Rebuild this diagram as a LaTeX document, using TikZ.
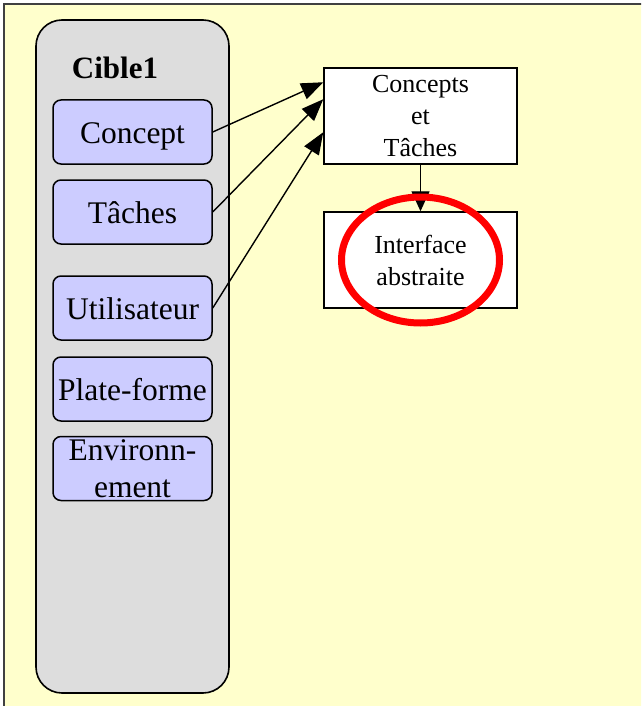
\documentclass[tikz,border=0pt]{standalone}
\usepackage{fontspec}
\setmainfont{Liberation Serif}
\usetikzlibrary{arrows.meta,calc}
\definecolor{bgyellow}{HTML}{FFFFCC}
\definecolor{panelgray}{HTML}{DDDDDD}
\definecolor{itemblue}{HTML}{CCCCFF}
\definecolor{framegray}{HTML}{404040}
\begin{document}
\begin{tikzpicture}[x=1pt,y=-1pt,
  panel/.style={draw=black, line width=1.6pt, fill=panelgray, rounded corners=26pt},
  itembase/.style={draw=black, line width=1.5pt, fill=itemblue, rounded corners=8pt,
    minimum width=159pt, minimum height=64pt, inner sep=0pt, align=center,
    font=\fontsize{31.5}{37}\selectfont},
  item/.style={itembase, text height=23pt, text depth=0pt},
  stagebox/.style={draw=black, line width=1.5pt, fill=white, minimum width=193pt,
    minimum height=96pt, inner sep=0pt, align=center, font=\fontsize{26}{32}\selectfont},
  link/.style={draw=black, line width=1.4pt, -{Triangle[length=22pt,width=17pt]}}]

% page and yellow sheet
\clip (0,0) rectangle (641,706);
\fill[white] (0,0) rectangle (641,706);
\draw[line width=2pt, draw=framegray, fill=bgyellow] (4,4) rectangle (660,720);

% target panel with its model components
\draw[panel] (36,20) rectangle (229,693);
\node[inner sep=0pt, font=\bfseries\fontsize{31}{37}\selectfont] (title) at (115,67.5) {Cible1};
\node[item] (concept) at (132.5,132) {Concept};
\node[item] (taches) at (132.5,212) {Tâches};
\node[item] (user) at (132.5,308) {Utilisateur};
\node[item] (platform) at (132.5,389) {Plate-forme};
\node[itembase] (env) at (132.5,468.5) {Environn-\\ement};

% derived models
\node[stagebox] (ct) at (420.5,116) {Concepts\\et\\Tâches};
\node[stagebox] (ia) at (420.5,260) {Interface\\abstraite};

% connectors
\coordinate (in1) at ($(ct.north west)+(0,15)$);
\coordinate (in2) at ($(ct.north west)+(0,32)$);
\coordinate (in3) at ($(ct.north west)+(0,65)$);
\draw[link] (concept.east) -- (in1);
\draw[link] (taches.east) -- (in2);
\draw[link] (user.east) -- (in3);
\draw[link, -{Triangle[length=20pt,width=18pt]}] (ct.south) -- (ia.north);

% highlight
\draw[red, line width=7pt] (ia.center) ellipse [x radius=79pt, y radius=63pt];
\end{tikzpicture}
\end{document}
